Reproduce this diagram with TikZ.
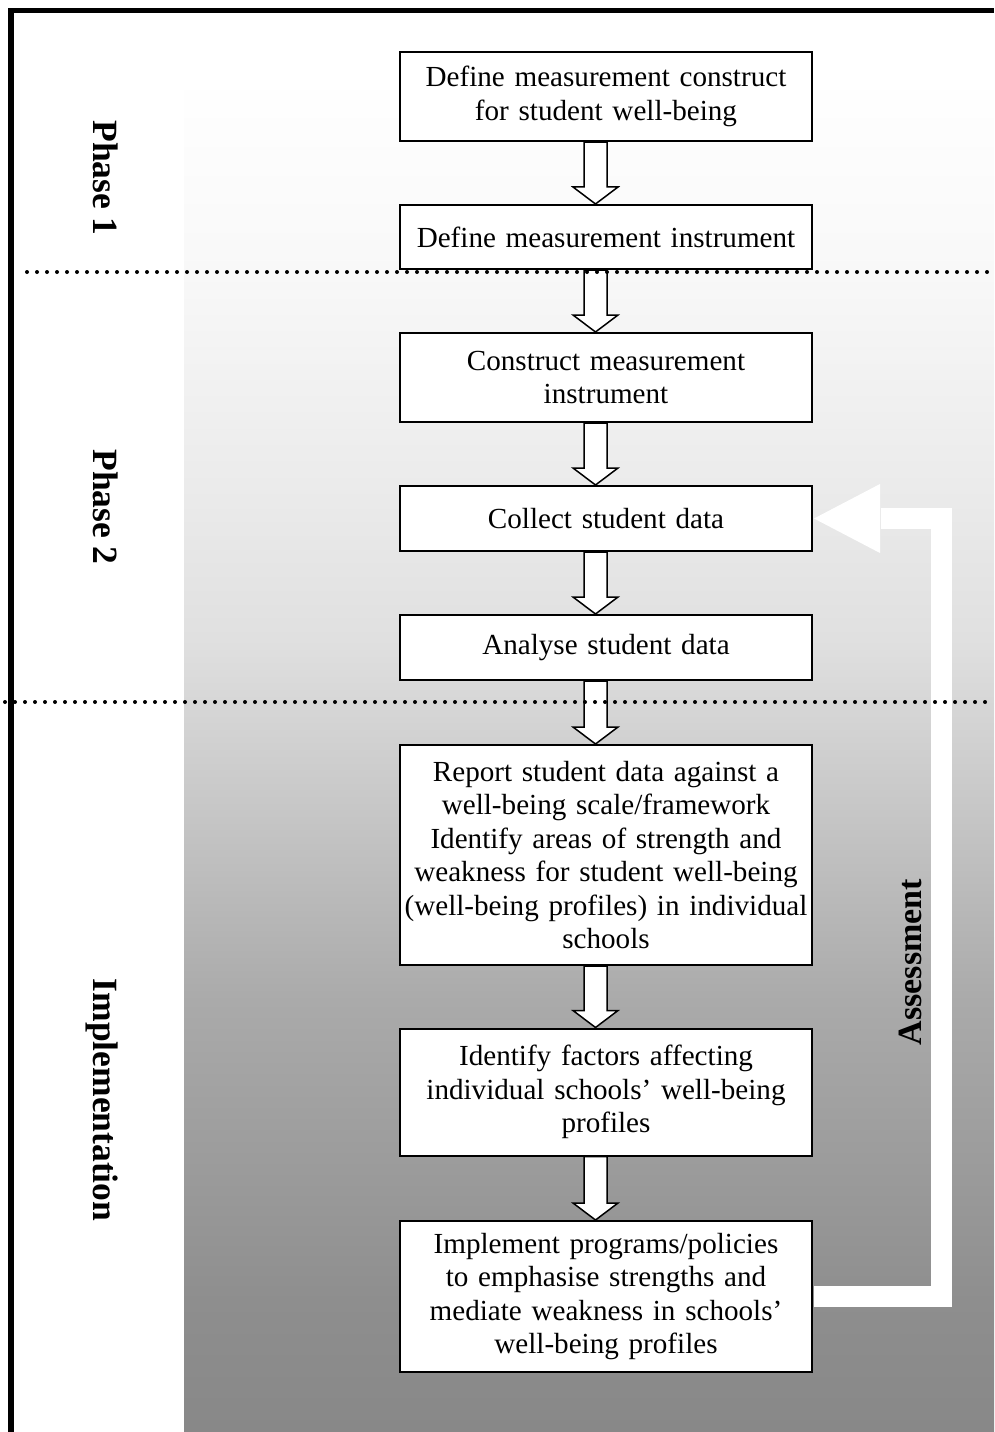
\documentclass[tikz,border=0pt]{standalone}
\usepackage{fontspec}
\setmainfont{Liberation Serif}
\usepackage{tikz}
\usetikzlibrary{calc}
\pgfdeclareverticalshading{phaseshade}{100bp}{%
  color(0bp)=(black!46.7); color(25bp)=(black!46.7); color(29.86bp)=(black!44.3);
  color(34.28bp)=(black!39.6); color(40.92bp)=(black!33.3); color(54.18bp)=(black!12.2);
  color(59.34bp)=(black!8.2); color(67.74bp)=(black!2.7); color(75bp)=(white);
  color(100bp)=(white)}
\tikzset{%
  stepbox/.style={draw=black, line width=0.8pt, fill=white, align=center,
    text width=164pt, inner xsep=0.4pt, inner ysep=0pt,
    font=\fontsize{11.65pt}{13.4pt}\selectfont},
  blockarr/.style={draw=black, line width=0.6pt, fill=white, line join=miter},
  phaselabel/.style={font=\fontsize{14.2pt}{16pt}\selectfont\bfseries, anchor=base},
  sepline/.style={line width=1.6pt, line cap=round, dash pattern=on 0pt off 4pt},
  fbarrow/.style={white, line width=8.4pt, line join=miter}
}
\newcommand{\blkarrow}[2]{%
  \draw[blockarr] ($(#1.south)+(-22,0)$) -- ($(#2.north)+(-22,-17)$)
    -- ($(#2.north)+(-33,-17)$) -- ($(#2.north)+(-10.5,0)$)
    -- ($(#2.north)+(12,-17)$) -- ($(#2.north)+(1,-17)$)
    -- ($(#1.south)+(1,0)$) -- cycle;
}

\begin{document}
\begin{tikzpicture}[x=0.4pt, y=-0.4pt]
\useasboundingbox (0,0) rectangle (994,1432);

\shade[shading=phaseshade] (184,75) rectangle (994,1432);
\draw[line width=2.2pt, line join=miter] (11,1432) -- (11,10.5) -- (994,10.5);

% phase labels
\node[phaselabel, rotate=-90] (ph1) at (93,178) {Phase 1};
\node[phaselabel, rotate=-90] (ph2) at (93,507) {Phase 2};
\node[phaselabel, rotate=-90] (impl) at (93,1100) {Implementation};

% steps
\node[stepbox, minimum height=35.6pt] (b1) at (606,96.5) {Define measurement construct\\for student well-being};
\node[stepbox, minimum height=25.6pt] (b2) at (606,237) {Define measurement instrument};
\node[stepbox, minimum height=35.6pt] (b3) at (606,377.5) {Construct measurement\\instrument};
\node[stepbox, minimum height=26pt] (b4) at (606,518.5) {Collect student data};
\node[stepbox, minimum height=26pt] (b5) at (606,647.5) {Analyse student data};
\node[stepbox, minimum height=88pt] (b6) at (606,855) {Report student data against a\\well-being scale/framework\\Identify areas of strength and\\weakness for student well-being\\(well-being profiles) in individual\\schools};
\node[stepbox, minimum height=50.8pt] (b7) at (606,1092) {Identify factors affecting\\individual schools’ well-being\\profiles};
\node[stepbox, minimum height=60.4pt] (b8) at (606,1296.5) {Implement programs/policies\\to emphasise strengths and\\mediate weakness in schools’\\well-being profiles};

\foreach \a/\b in {b1/b2, b2/b3, b3/b4, b4/b5, b5/b6, b6/b7, b7/b8} {
  \blkarrow{\a}{\b}
}

% assessment loop
\coordinate (fbtop) at (941,518.5);
\draw[fbarrow] ($(b8.east)+(1,0)$) -| (fbtop) -- ($(b4.east)+(68,0)$);
\fill[white] ($(b4.east)+(1,0)$) -- ($(b4.east)+(67,-34.5)$) -- ($(b4.east)+(67,34.5)$) -- cycle;
\node[phaselabel, rotate=90, font=\fontsize{13.6pt}{15.6pt}\selectfont\bfseries] (asmt) at (921,962) {Assessment};

\draw[sepline] (27,272) -- (994,272);
\draw[sepline] (5,702) -- (994,702);

\end{tikzpicture}
\end{document}
